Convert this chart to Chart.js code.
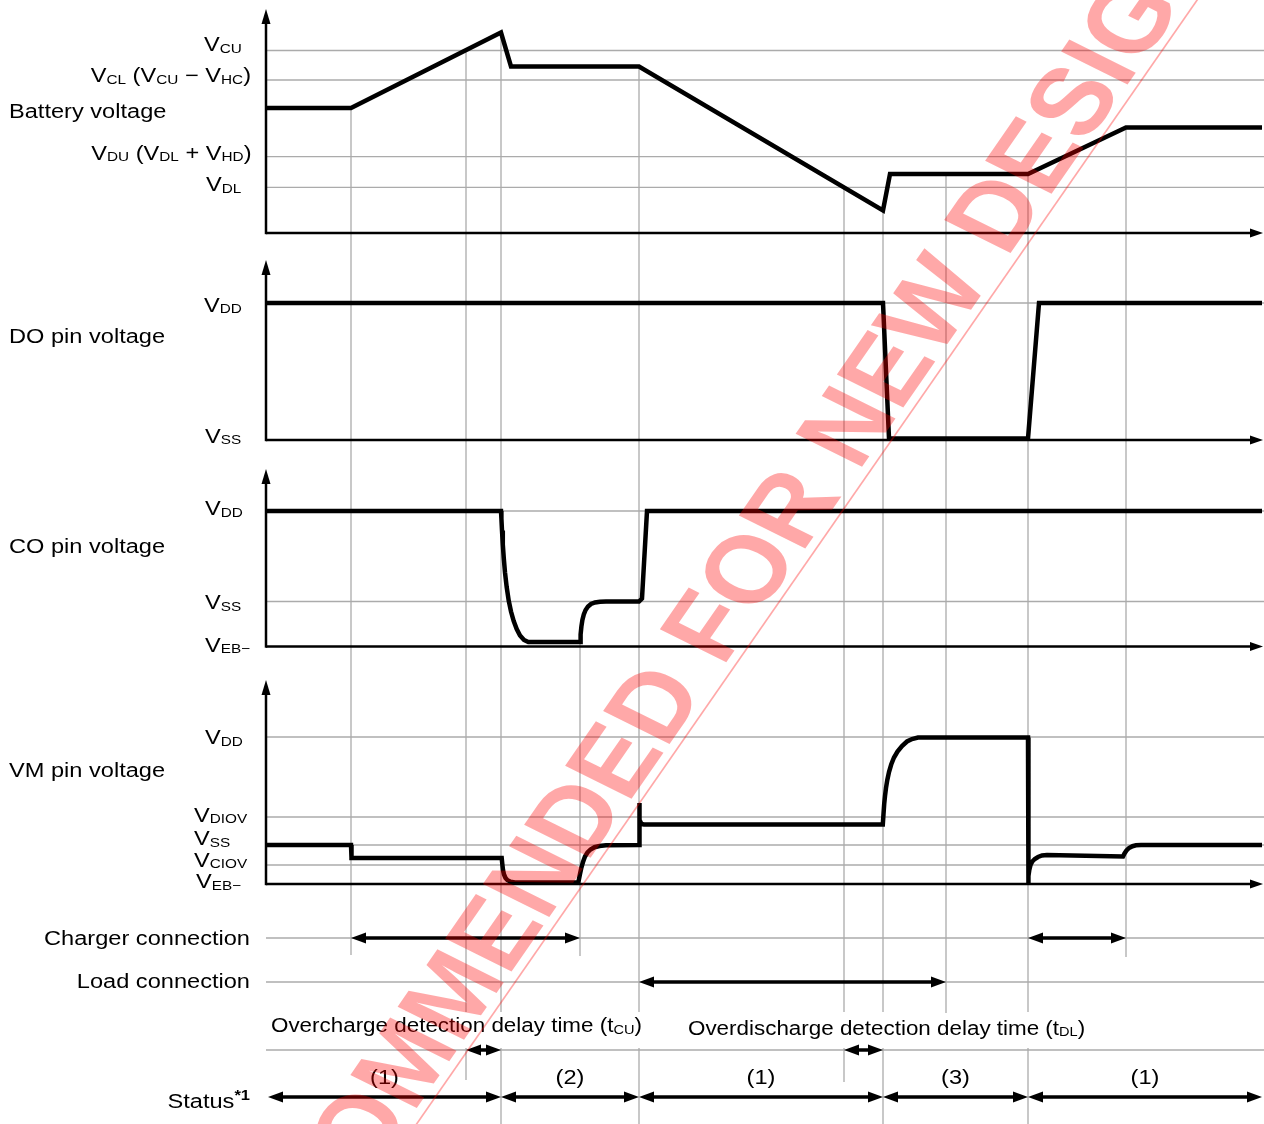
<!DOCTYPE html>
<html>
<head>
<meta charset="utf-8">
<title>Battery protection timing chart</title>
<script src="https://cdn.jsdelivr.net/npm/chart.js@4.4.1/dist/chart.umd.min.js"></script>
<style>
  html, body { margin: 0; padding: 0; background: #fff; }
  #wrap { width: 1264px; height: 1124px; }
</style>
</head>
<body>
<div id="wrap"><canvas id="chart" width="1264" height="1124"></canvas></div>
<script>
// =====================================================
// Data (time units, 0 = vertical axis)
// =====================================================
const TIME_END = 997;
const eventTimes = [85, 200, 235, 314, 373, 578, 617, 680, 762, 860];

// Battery voltage
const batteryT = [0, 85, 235, 245, 373, 617, 624, 762, 860, 996];
const batteryV = [125, 125, 200.5, 166.5, 166.5, 22.5, 59, 59, 105.5, 105.5];
const batteryLevels = [182.5, 153, 76.3, 45.7];
const batteryTicks = ["V_{CU}", "V_{CL} (V_{CU} − V_{HC})", "V_{DU} (V_{DL} + V_{HD})", "V_{DL}"];

// DO pin voltage
const doT = [0, 617, 623, 762, 773, 996];
const doV = [137, 137, 1.5, 1.5, 137, 137];
const doLevels = [137, 0];
const doTicks = ["V_{DD}", "V_{SS}"];

// CO pin voltage
const coT = [0, 235, 235.4, 236, 236.8, 237.8, 239, 240.7, 242.7, 245, 247.7, 250.7, 254, 258, 262.3,
             314, 314.6, 315.4, 316.4, 317.8, 319.6, 322, 325, 329, 334, 340,
             373, 376, 381, 996];
const coV = [135.5, 135.5, 128, 116, 102, 88, 74, 59.3, 46, 35, 25.5, 17.5, 11, 6.5, 4.5,
             4.5, 12, 20, 26.5, 32, 36.5, 40, 42.5, 44, 44.8, 45,
             45, 48, 135.5, 135.5];
const coLevels = [135.5, 45, 0];
const coTicks = ["V_{DD}", "V_{SS}", "V_{EB−}"];

// VM pin voltage
const vmT = [0, 85, 85.5,
             235.7, 236.3, 237, 238, 239.5, 241.5, 244.5, 249, 253,
             312.3, 313, 314, 315.4, 317, 319, 321.5, 324.5, 328.5, 333.5, 340, 373,
             373.3, 373.7, 375.5, 378,
             616.8, 617.5, 618.2, 619, 620, 621.3, 623, 625.2, 628, 631.5, 636, 641, 646, 652,
             762, 762.3, 762.6, 763.3, 764.5, 766.3, 768.8, 772, 776, 781,
             857, 858.5, 860.5, 863, 866.5, 870, 875, 996];
const vmV = [39, 39, 26,
             26, 20, 14, 9.5, 6, 3.8, 2.3, 1.6, 1.5,
             1.5, 5, 10, 16.5, 22, 27.5, 31.5, 34.5, 36.8, 38, 38.8, 39,
             81, 64, 60, 59.5,
             59.5, 70, 80, 88, 96, 104, 112, 119.5, 126.5, 132.5, 138, 142.5, 145, 146.5,
             146.5, 1, 8, 14, 19, 22.5, 25, 27, 28.5, 29,
             27.5, 30.5, 33.5, 36, 37.8, 38.7, 39, 39];
const vmLevels = [147, 67, 39, 19, 0];
const vmTicks = ["V_{DD}", "V_{DIOV}", "V_{SS}", "V_{CIOV}", "V_{EB−}"];

const panelTitles = ["Battery voltage", "DO pin voltage", "CO pin voltage", "VM pin voltage"];

// Lower rows
const rowTitles = ["Charger connection", "Load connection", "Status^{*1}"];
const chargerSpans = [[85, 314], [762, 860]];
const loadSpans = [[373, 680]];
const delaySpans = [[200, 235], [578, 617]];
const delayTexts = ["Overcharge detection delay time (t_{CU})", "Overdischarge detection delay time (t_{DL})"];
const statusBounds = [2, 235, 373, 617, 762, 996];
const statusLabels = ["(1)", "(2)", "(1)", "(3)", "(1)"];

// =====================================================
// Layout
// =====================================================
const panels = ["yBat", "yDo", "yCo", "yVm"];
const panelBase = { yBat: 233, yDo: 440, yCo: 646.5, yVm: 884, yRow: 1124 };
const axisTop = { yBat: 224, yDo: 180, yCo: 177.5, yVm: 204 };
const series = {
  yBat: [batteryT, batteryV], yDo: [doT, doV], yCo: [coT, coV], yVm: [vmT, vmV]
};
const levels = { yBat: batteryLevels, yDo: doLevels, yCo: coLevels, yVm: vmLevels };
const ticks = { yBat: batteryTicks, yDo: doTicks, yCo: coTicks, yVm: vmTicks };
const tickPos = {
  yBat: [{ x: 204, dy: 0.5 }, { x: 251, dy: 2, align: "right" }, { x: 251.5, dy: 2.8, align: "right" }, { x: 206, dy: 3.7 }],
  yDo: [{ x: 204, dy: 8.5 }, { x: 205, dy: 2.5 }],
  yCo: [{ x: 205, dy: 4 }, { x: 205, dy: 7.5 }, { x: 205, dy: 5 }],
  yVm: [{ x: 205, dy: 7 }, { x: 194, dy: 4.5 }, { x: 194, dy: 0 }, { x: 194, dy: 1.5 }, { x: 196, dy: 4 }]
};
const titleBaseline = [118, 342.5, 553, 777];

// rows scale levels (height above the bottom edge)
const ROW = { charger: 186, load: 142, delayText: [92, 89.5], delay: 74, statusText: 40.5, status: 27 };
const gridStartPanel = ["yBat", "yBat", "yBat", "yCo", "yBat", "yBat", "yBat", "yBat", "yBat", "yBat"];
const gridEnds = [169, 44, 0, 168, 0, 42, 0, 111, 0, 167];
const GRID_GAP = [112, 76];

const FONT = '"Liberation Sans", Arial, sans-serif';
const TEXT_SIZE = 20, SUB_SIZE = 13, SUP_SIZE = 14, STRETCH = 1.18;
const GRID_COLOR = "#ababab";

// =====================================================
// Helpers
// =====================================================
function valueAt(T, V, t){
  for(let i = 0; i < T.length - 1; i++){
    if(t >= T[i] && t <= T[i+1]){
      const f = T[i+1] === T[i] ? 0 : (t - T[i]) / (T[i+1] - T[i]);
      return V[i] + f * (V[i+1] - V[i]);
    }
  }
  return V[V.length - 1];
}

function parseRich(str){
  const runs = [];
  const re = /([_^])\{([^}]*)\}/g;
  let last = 0, m;
  while((m = re.exec(str))){
    if(m.index > last) runs.push({ t: str.slice(last, m.index), k: "n" });
    runs.push({ t: m[2], k: m[1] === "_" ? "sub" : "sup" });
    last = re.lastIndex;
  }
  if(last < str.length) runs.push({ t: str.slice(last), k: "n" });
  return runs;
}

function runFont(k){
  if(k === "sub") return `${SUB_SIZE}px ${FONT}`;
  if(k === "sup") return `bold ${SUP_SIZE}px ${FONT}`;
  return `${TEXT_SIZE}px ${FONT}`;
}

function drawRich(ctx, str, x, y, align, stretch = STRETCH){
  const runs = parseRich(str);
  let w = 0;
  runs.forEach(r => { ctx.font = runFont(r.k); r.w = ctx.measureText(r.t).width; w += r.w; });
  const x0 = align === "right" ? x - w * stretch : align === "center" ? x - w * stretch / 2 : x;
  ctx.save();
  ctx.translate(x0, y);
  ctx.scale(stretch, 1);
  ctx.textAlign = "left";
  ctx.textBaseline = "alphabetic";
  ctx.fillStyle = "#000";
  let cx = 0;
  runs.forEach(r => {
    ctx.font = runFont(r.k);
    const dy = r.k === "sub" ? 1.5 : r.k === "sup" ? -8 : 0;
    ctx.fillText(r.t, cx, dy);
    cx += r.w;
  });
  ctx.restore();
}

function line(ctx, x1, y1, x2, y2){
  ctx.beginPath(); ctx.moveTo(x1, y1); ctx.lineTo(x2, y2); ctx.stroke();
}

function doubleArrow(ctx, x1, x2, y){
  const L = 15, H = 5.5;
  ctx.save();
  ctx.strokeStyle = "#000"; ctx.fillStyle = "#000"; ctx.lineWidth = 3.5;
  line(ctx, x1 + L - 2, y, x2 - L + 2, y);
  ctx.beginPath(); ctx.moveTo(x1, y); ctx.lineTo(x1 + L, y - H); ctx.lineTo(x1 + L, y + H); ctx.closePath(); ctx.fill();
  ctx.beginPath(); ctx.moveTo(x2, y); ctx.lineTo(x2 - L, y - H); ctx.lineTo(x2 - L, y + H); ctx.closePath(); ctx.fill();
  ctx.restore();
}

// =====================================================
// Plugin: grid, axes, labels, arrows, watermark
// =====================================================
const timingPlugin = {
  id: "timing",
  beforeDatasetsDraw(chart){
    const ctx = chart.ctx, xs = chart.scales.x, rs = chart.scales.yRow;
    const left = xs.getPixelForValue(0), right = chart.chartArea.right;
    ctx.save();
    ctx.strokeStyle = GRID_COLOR; ctx.lineWidth = 1.3;

    // horizontal level lines
    panels.forEach(id => {
      const ys = chart.scales[id];
      levels[id].forEach(v => { if(v > 0){ const y = ys.getPixelForValue(v); line(ctx, left, y, right, y); } });
    });
    [ROW.charger, ROW.load, ROW.delay].forEach(v => {
      const y = rs.getPixelForValue(v); line(ctx, left, y, right, y);
    });

    // vertical event lines
    eventTimes.forEach((t, i) => {
      const id = gridStartPanel[i];
      const [T, V] = series[id];
      const x = xs.getPixelForValue(t);
      const yStart = chart.scales[id].getPixelForValue(valueAt(T, V, t));
      const yEnd = rs.getPixelForValue(gridEnds[i]);
      if(gridEnds[i] < GRID_GAP[1]){
        line(ctx, x, yStart, x, rs.getPixelForValue(GRID_GAP[0]));
        line(ctx, x, rs.getPixelForValue(GRID_GAP[1]), x, yEnd);
      } else {
        line(ctx, x, yStart, x, yEnd);
      }
    });

    // axes
    ctx.strokeStyle = "#000"; ctx.fillStyle = "#000"; ctx.lineWidth = 2.5;
    const xTip = xs.getPixelForValue(TIME_END);
    panels.forEach(id => {
      const ys = chart.scales[id];
      const y0 = ys.getPixelForValue(0), yTip = ys.getPixelForValue(axisTop[id]);
      line(ctx, left, y0 + 1.2, left, yTip + 12);
      line(ctx, left, y0, xTip - 10, y0);
      ctx.beginPath(); ctx.moveTo(left, yTip); ctx.lineTo(left - 4.5, yTip + 15); ctx.lineTo(left + 4.5, yTip + 15); ctx.closePath(); ctx.fill();
      ctx.beginPath(); ctx.moveTo(xTip, y0); ctx.lineTo(xTip - 13, y0 - 4.5); ctx.lineTo(xTip - 13, y0 + 4.5); ctx.closePath(); ctx.fill();
    });
    ctx.restore();
  },
  afterDatasetsDraw(chart){
    const ctx = chart.ctx, xs = chart.scales.x, rs = chart.scales.yRow;
    const X = t => xs.getPixelForValue(t);

    // panel titles and level labels
    panels.forEach((id, p) => {
      drawRich(ctx, panelTitles[p], 9, titleBaseline[p], "left");
      const ys = chart.scales[id];
      ticks[id].forEach((txt, i) => {
        const pos = tickPos[id][i];
        drawRich(ctx, txt, pos.x, ys.getPixelForValue(levels[id][i]) + pos.dy, pos.align || "left");
      });
    });

    // lower rows
    const rowY = [ROW.charger, ROW.load, ROW.status].map(v => rs.getPixelForValue(v));
    drawRich(ctx, rowTitles[0], 250, rowY[0] + 7, "right");
    drawRich(ctx, rowTitles[1], 250, rowY[1] + 6, "right");
    drawRich(ctx, rowTitles[2], 250, rowY[2] + 11, "right");

    chargerSpans.forEach(s => doubleArrow(ctx, X(s[0]), X(s[1]), rowY[0]));
    loadSpans.forEach(s => doubleArrow(ctx, X(s[0]), X(s[1]), rowY[1]));
    const dY = rs.getPixelForValue(ROW.delay);
    delaySpans.forEach(s => doubleArrow(ctx, X(s[0]), X(s[1]), dY));
    drawRich(ctx, delayTexts[0], 271, rs.getPixelForValue(ROW.delayText[0]), "left", 1.12);
    drawRich(ctx, delayTexts[1], 688, rs.getPixelForValue(ROW.delayText[1]), "left", 1.12);

    for(let i = 0; i < statusLabels.length; i++){
      const a = statusBounds[i], b = statusBounds[i+1];
      doubleArrow(ctx, X(a), X(b), rowY[2]);
      drawRich(ctx, statusLabels[i], X((a + b) / 2), rs.getPixelForValue(ROW.statusText), "center");
    }

    // watermark
    ctx.save();
    ctx.translate(726.7, 661.7);
    ctx.scale(STRETCH, 1);
    ctx.rotate(-Math.atan(1.44 * STRETCH));
    ctx.font = `bold 95px ${FONT}`;
    ctx.fillStyle = "rgba(255,0,0,0.34)";
    ctx.strokeStyle = "rgba(255,0,0,0.34)";
    ctx.textBaseline = "alphabetic";
    const pre = ctx.measureText("NOT RECOMMENDED ").width;
    ctx.fillText("NOT RECOMMENDED FOR NEW DESIGN", -pre - 7, 0);
    ctx.lineWidth = 1.5;
    line(ctx, -2500, 8, 2500, 8);
    ctx.restore();
  }
};

// =====================================================
// Chart
// =====================================================
const pts = (T, V) => T.map((t, i) => ({ x: t, y: V[i] }));
const ds = (id, T, V) => ({
  data: pts(T, V), yAxisID: id, borderColor: "#000", borderWidth: 4.5,
  pointRadius: 0, tension: 0, fill: false, clip: false
});
const yScale = id => ({
  type: "linear", axis: "y", position: "left", display: false,
  min: panelBase[id] - 1124, max: panelBase[id]
});

new Chart(document.getElementById("chart"), {
  type: "line",
  data: {
    datasets: [
      ds("yBat", batteryT, batteryV),
      ds("yDo", doT, doV),
      ds("yCo", coT, coV),
      ds("yVm", vmT, vmV)
    ]
  },
  options: {
    responsive: false,
    animation: false,
    devicePixelRatio: 1,
    events: [],
    layout: { padding: { left: 266, right: 0, top: 0, bottom: 0 } },
    plugins: { legend: { display: false }, tooltip: { enabled: false } },
    scales: {
      x: { type: "linear", display: false, min: 0, max: 998 },
      yBat: yScale("yBat"),
      yDo: yScale("yDo"),
      yCo: yScale("yCo"),
      yVm: yScale("yVm"),
      yRow: yScale("yRow")
    }
  },
  plugins: [timingPlugin]
});
</script>
</body>
</html>
